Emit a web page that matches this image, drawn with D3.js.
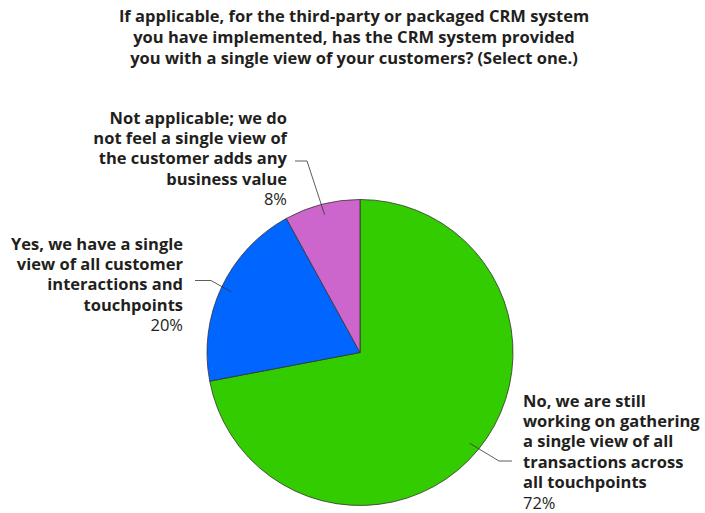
<!DOCTYPE html>
<html lang="en">
<head>
<meta charset="UTF-8">
<title>CRM single view pie</title>
<script src="https://d3js.org/d3.v7.min.js"></script>
<style>
  body { margin: 0; background: #fff; }
  text { font-family: "Open Sans", sans-serif; fill: #231f20; }
  .title { font-size: 16.5px; font-weight: 700; }
  .lab { font-size: 16.5px; font-weight: 700; }
  .pct { font-size: 16.5px; font-weight: 400; }
</style>
</head>
<body>
<svg id="chart" width="705" height="513"></svg>
<script>
  const titleLines = [
    "If applicable, for the third-party or packaged CRM system",
    "you have implemented, has the CRM system provided",
    "you with a single view of your customers? (Select one.)"
  ];
  const categories = ["No", "Yes", "Not applicable"];
  const values = [72, 20, 8];
  const colors = ["#33cc00", "#0066ff", "#cc66cc"];
  const labelLines = [
    ["No, we are still", "working on gathering", "a single view of all", "transactions across", "all touchpoints"],
    ["Yes, we have a single", "view of all customer", "interactions and", "touchpoints"],
    ["Not applicable; we do", "not feel a single view of", "the customer adds any", "business value"]
  ];

  const svg = d3.select("#chart");
  const cx = 360, cy = 352.5, R = 153;
  const LINE_H = 20.2;

  // title
  svg.append("text")
    .attr("class", "title")
    .attr("text-anchor", "middle")
    .selectAll("tspan")
    .data(titleLines)
    .join("tspan")
    .attr("x", 354)
    .attr("y", (d, i) => 22 + i * 21)
    .text(d => d);

  const pie = d3.pie().sort(null).value(d => d);
  const arcs = pie(values);
  const arc = d3.arc().innerRadius(0).outerRadius(R);
  const leaderArc = d3.arc().innerRadius(R * 0.93).outerRadius(R * 0.93);

  const g = svg.append("g").attr("transform", `translate(${cx},${cy})`);
  g.selectAll("path.slice")
    .data(arcs)
    .join("path")
    .attr("class", "slice")
    .attr("d", arc)
    .attr("fill", (d, i) => colors[i])
    .attr("stroke", "#333")
    .attr("stroke-width", 0.8);

  // label layout: anchor side, text x, first baseline, leader elbow, leader end
  const layout = [
    { anchor: "start", x: 523, y: 407, elbow: [499, 461], end: [512, 461] },
    { anchor: "end", x: 183, y: 250, elbow: [211, 280.5], end: [195, 280.5] },
    { anchor: "end", x: 287, y: 124, elbow: [307, 161], end: [295, 161] }
  ];

  arcs.forEach((a, i) => {
    const L = layout[i];
    const c = leaderArc.centroid(a);
    const p0 = [cx + c[0], cy + c[1]];
    svg.append("polyline")
      .attr("points", [p0, L.elbow, L.end].map(p => p.join(",")).join(" "))
      .attr("fill", "none")
      .attr("stroke", "#333")
      .attr("stroke-width", 0.8);

    const t = svg.append("text").attr("text-anchor", L.anchor);
    labelLines[i].forEach((line, j) => {
      t.append("tspan")
        .attr("class", "lab")
        .attr("x", L.x)
        .attr("y", L.y + j * LINE_H)
        .text(line);
    });
    t.append("tspan")
      .attr("class", "pct")
      .attr("x", L.x)
      .attr("y", L.y + labelLines[i].length * LINE_H + 0.5)
      .text(values[i] + "%");
  });
</script>
</body>
</html>
